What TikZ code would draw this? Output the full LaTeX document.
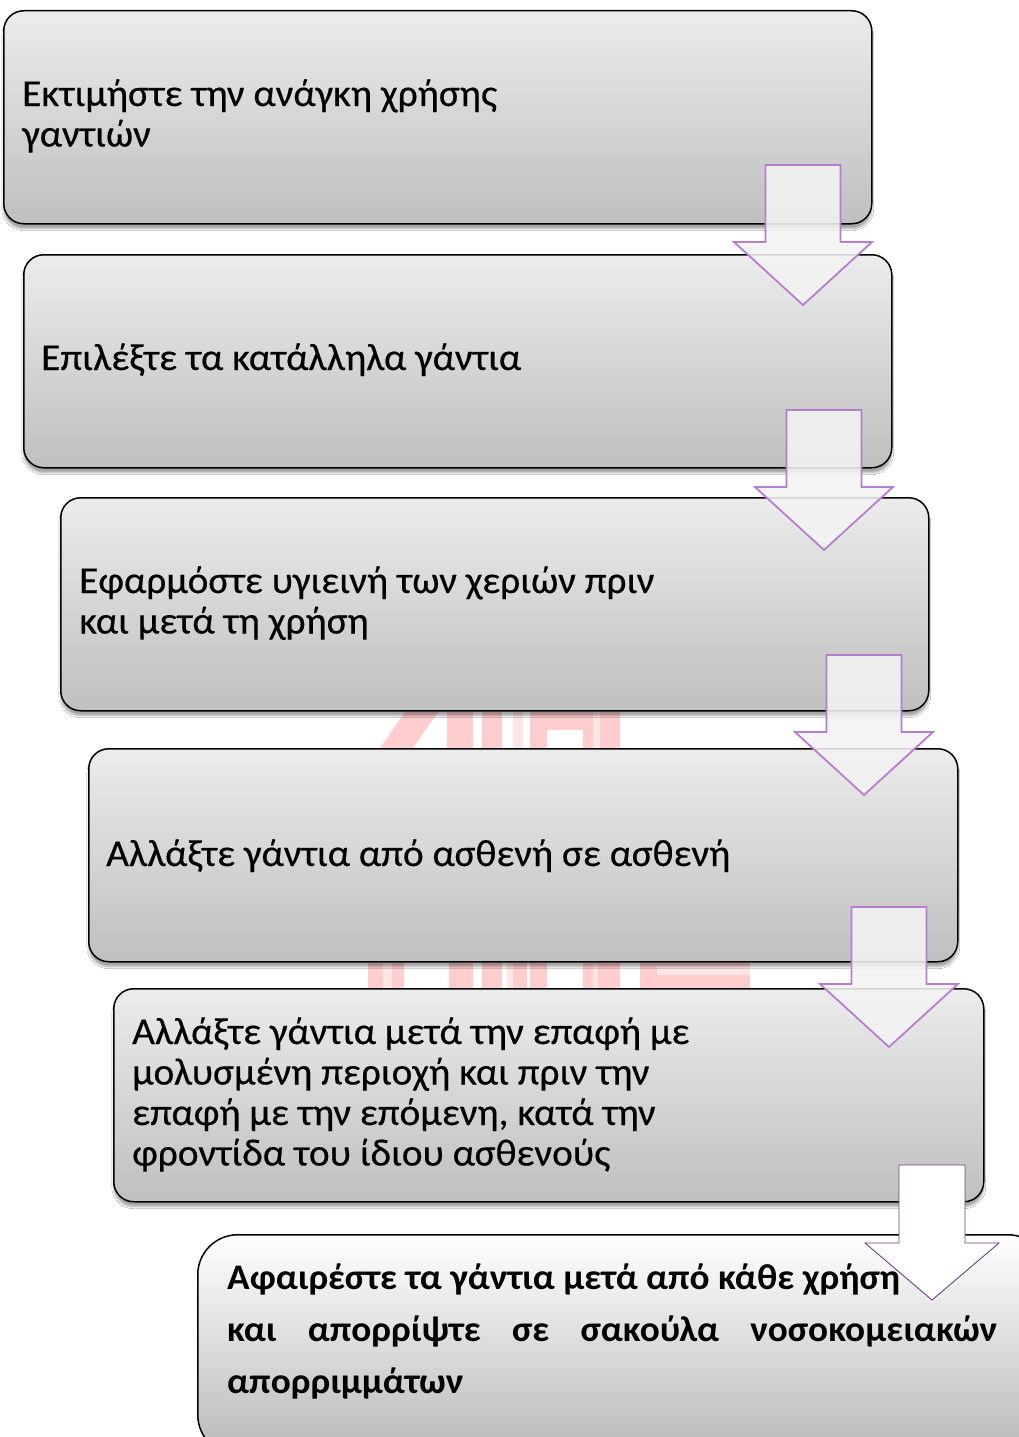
\documentclass[tikz,border=0pt]{standalone}
\usepackage{fontspec}
\setmainfont{Carlito}
\newfontfamily\regfont[FakeStretch=1.035,FakeBold=0.4]{Carlito}
\newfontfamily\strongfont[FakeStretch=1.035]{Carlito}
\usetikzlibrary{shadows.blur}
\definecolor{arrowline}{HTML}{B77ED0}
\definecolor{arrowline2}{HTML}{6E4280}
\definecolor{arrowfill}{HTML}{F3F3F3}
\definecolor{wm}{HTML}{FFCDCD}
\definecolor{wmlight}{HTML}{FFE6E6}
\tikzset{
  stepbox/.style={draw=black, line width=1.5pt, rounded corners=20pt,
    top color=gray!15, bottom color=gray!50, inner sep=0pt,
    minimum width=868pt, minimum height=213pt, anchor=north west,
    blur shadow={shadow xshift=0pt, shadow yshift=-5pt, shadow opacity=35, shadow blur steps=6}},
  lastbox/.style={draw=black, line width=1.5pt, rounded corners=40pt,
    top color=white, bottom color=gray!55, inner sep=0pt,
    minimum width=850pt, minimum height=220pt, anchor=north west},
  steptext/.style={anchor=base west, inner sep=0pt, font=\regfont\fontsize{38}{40.5}\selectfont},
  lasttext/.style={anchor=base west, inner sep=0pt, font=\strongfont\bfseries\fontsize{36}{52}\selectfont},
  flowarrow/.style={draw=arrowline, line width=1.8pt, fill=arrowfill, fill opacity=0.88, line join=miter},
  lastarrow/.style={draw=arrowline2, line width=0.9pt, fill=white, line join=miter},
  wmark/.style={fill=wm, draw=none},
  wmarkl/.style={fill=wmlight, draw=none}
}
\begin{document}
\begin{tikzpicture}[x=1pt,y=-1pt]
\useasboundingbox (0,0) rectangle (1019,1437);
\fill[white] (0,0) rectangle (1019,1437);
% watermark pieces visible in gaps
\fill[wmark] (380,748) -- (405,712) -- (438,712) -- (413,748) -- cycle;
\fill[wmark] (447,712) rectangle (473,748);
\fill[wmark] (482,712) rectangle (502,748);
\fill[wmarkl] (513,712) rectangle (523,748);
\fill[wmark] (530,712) rectangle (620,748);
\fill[white] (547,730) rectangle (583,748);
\fill[wmarkl] (593,712) rectangle (600,748);
\fill[wmark] (368,963) rectangle (404,988);
\fill[wmarkl] (383,963) rectangle (392,988);
\fill[wmark] (449,963) rectangle (473,988);
\fill[wmark] (482,963) rectangle (502,988);
\fill[wmarkl] (507,963) rectangle (513,988);
\fill[wmark] (513,963) rectangle (527,988);
\fill[wmark] (530,963) rectangle (547,988);
\fill[wmark] (583,963) rectangle (620,988);
\fill[wmarkl] (593,963) rectangle (598,988);
\fill[wmark] (640,963) rectangle (750,988);
\fill[wmarkl] (657,966) rectangle (750,975);
% boxes
\node[stepbox] (b1) at (3,10) {};
\node[stepbox] (b2) at (23,254) {};
\node[stepbox] (b3) at (60,497) {};
\node[stepbox, minimum width=869pt] (b4) at (88,748) {};
\node[stepbox, minimum width=870pt] (b5) at (113,988) {};
\node[lastbox] (b6) at (197,1234) {};
% texts
\node[steptext] (t1) at (22,106) {\vtop{\hbox{Εκτιμήστε την ανάγκη χρήσης}\hbox{γαντιών}}};
\node[steptext] (t2) at (41,370) {Επιλέξτε τα κατάλληλα γάντια};
\node[steptext] (t3) at (79,593) {\vtop{\hbox{Εφαρμόστε υγιεινή των χεριών πριν}\hbox{και μετά τη χρήση}}};
\node[steptext] (t4) at (106,866) {Αλλάξτε γάντια από ασθενή σε ασθενή};
\node[steptext] (t5) at (132,1044) {\vtop{\hbox{Αλλάξτε γάντια μετά την επαφή με}\hbox{μολυσμένη περιοχή και πριν την}\hbox{επαφή με την επόμενη, κατά την}\hbox{φροντίδα του ίδιου ασθενούς}}};
\node[lasttext] (t6) at (227,1289) {\vtop{\hbox{Αφαιρέστε τα γάντια μετά από κάθε χρήση}\hbox to 770pt{και\hfill απορρίψτε\hfill σε\hfill σακούλα\hfill νοσοκομειακών}\hbox{απορριμμάτων}}};
% arrows between steps
\coordinate (a1) at (803,165);
\coordinate (a2) at (824,410);
\coordinate (a3) at (864,655);
\coordinate (a4) at (889,907);
\coordinate (a5) at (932,1165);
\foreach \a in {a1,a2,a3,a4}{
  \draw[flowarrow] (\a) ++(-37.5,0) -- ++(75,0) -- ++(0,77) -- ++(31.5,0) -- ++(-69,63) -- ++(-69,-63) -- ++(31.5,0) -- cycle;
}
\draw[lastarrow] (a5) ++(-33,0) -- ++(66,0) -- ++(0,78) -- ++(34,0) -- ++(-67,57) -- ++(-67,-57) -- ++(34,0) -- cycle;
\end{tikzpicture}
\end{document}
